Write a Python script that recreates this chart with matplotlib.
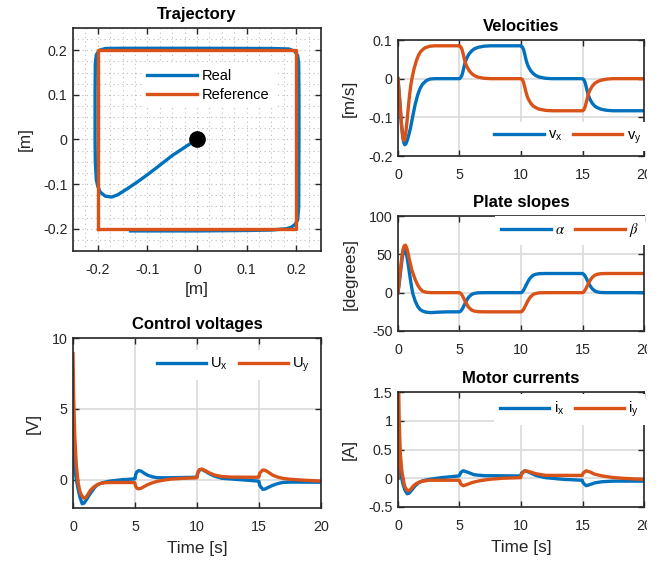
import matplotlib
matplotlib.use('Agg')
import matplotlib.pyplot as plt
from matplotlib.ticker import MultipleLocator, FuncFormatter
from matplotlib.patches import Rectangle

plt.rcParams['font.family'] = ['Liberation Sans', 'DejaVu Sans']
plt.rcParams['mathtext.fontset'] = 'stix'
plt.rcParams['axes.unicode_minus'] = False

# ---- data ----
# trajectory (x, y) [m]
real_x = [0, -0.02, -0.05, -0.08, -0.1, -0.12, -0.14, -0.16, -0.172, -0.185,
          -0.195, -0.2, -0.203, -0.205, -0.2055, -0.2055, -0.205, -0.203, -0.197, -0.185,
          -0.15, 0, 0.15, 0.185, 0.197, 0.203, 0.205, 0.2055, 0.2055, 0.205,
          0.203, 0.198, 0.19, 0.18, 0.15, 0.1, 0, -0.134]
real_y = [0, -0.014, -0.036, -0.062, -0.079, -0.095, -0.11, -0.124, -0.129, -0.127,
          -0.118, -0.105, -0.09, -0.05, 0, 0.1, 0.17, 0.19, 0.2, 0.204,
          0.2045, 0.2045, 0.204, 0.203, 0.198, 0.188, 0.17, 0.1, 0, -0.15,
          -0.18, -0.19, -0.197, -0.2, -0.203, -0.204, -0.205, -0.205]
ref_x = [-0.2, -0.2, 0.2, 0.2, -0.2]
ref_y = [-0.2, 0.2, 0.2, -0.2, -0.2]

# velocities [m/s]
t_vx = [0, 0.15, 0.3, 0.45, 0.55, 0.65, 0.8, 1.0, 1.2, 1.4, 1.6, 1.8, 2.0, 2.3, 2.6, 3.0,
        5.0, 5.1, 5.2, 5.3, 5.4, 5.5, 5.6, 5.8, 6.0, 6.2, 6.5, 7.0, 7.5,
        10.0, 10.1, 10.2, 10.3, 10.4, 10.5, 10.6, 10.8, 11.0, 11.2, 11.5, 12.0, 12.5,
        15.0, 15.1, 15.2, 15.3, 15.4, 15.5, 15.6, 15.8, 16.0, 16.2, 16.5, 17.0, 17.5, 20.0]
vx = [0, -0.06, -0.125, -0.163, -0.171, -0.168, -0.155, -0.13, -0.097, -0.066, -0.042, -0.025, -0.014, -0.005, -0.001, 0,
      0, 0.003, 0.009, 0.021, 0.035, 0.046, 0.054, 0.065, 0.072, 0.077, 0.081, 0.084, 0.085,
      0.085, 0.082, 0.076, 0.064, 0.05, 0.039, 0.031, 0.02, 0.013, 0.008, 0.004, 0.001, 0,
      0, -0.002, -0.009, -0.021, -0.034, -0.045, -0.053, -0.064, -0.071, -0.075, -0.079, -0.082, -0.083, -0.083]
t_vy = [0, 0.1, 0.2, 0.3, 0.4, 0.47, 0.55, 0.65, 0.75, 0.85, 0.95, 1.05, 1.15, 1.3, 1.5, 1.7, 1.9, 2.2, 2.6, 3.0,
        5.0, 5.1, 5.2, 5.3, 5.4, 5.5, 5.6, 5.8, 6.0, 6.2, 6.5, 7.0, 7.5,
        10.0, 10.1, 10.2, 10.3, 10.4, 10.5, 10.6, 10.8, 11.0, 11.2, 11.5, 12.0, 12.5,
        15.0, 15.1, 15.2, 15.3, 15.4, 15.5, 15.6, 15.8, 16.0, 16.2, 16.5, 17.0, 17.5, 20.0]
vy = [0, -0.04, -0.085, -0.125, -0.153, -0.16, -0.155, -0.135, -0.105, -0.07, -0.04, -0.015, 0.003, 0.025, 0.047, 0.063, 0.072, 0.08, 0.084, 0.085,
      0.085, 0.082, 0.076, 0.064, 0.05, 0.039, 0.031, 0.02, 0.013, 0.008, 0.004, 0.001, 0,
      0, -0.002, -0.009, -0.021, -0.034, -0.045, -0.053, -0.064, -0.071, -0.075, -0.079, -0.082, -0.083,
      -0.083, -0.081, -0.074, -0.062, -0.049, -0.038, -0.03, -0.019, -0.012, -0.008, -0.004, -0.001, 0, 0]

# plate slopes [degrees]
t_slope = [0, 0.1, 0.2, 0.3, 0.4, 0.5, 0.6, 0.7, 0.8, 0.9, 1.0, 1.1, 1.2, 1.4, 1.6, 1.8, 2.0, 2.3, 2.7, 3.2, 4.0,
           5.0, 5.1, 5.2, 5.3, 5.4, 5.5, 5.6, 5.7, 5.8, 6.0, 6.2, 6.5, 7.0,
           10.0, 10.1, 10.2, 10.3, 10.4, 10.5, 10.6, 10.7, 10.8, 11.0, 11.2, 11.5, 12.0,
           15.0, 15.1, 15.2, 15.3, 15.4, 15.5, 15.6, 15.7, 15.8, 16.0, 16.2, 16.5, 17.0, 20.0]
alpha = [0, 12, 26, 40, 51, 57, 56, 49, 40, 29, 18, 8, -1, -11, -18, -22, -24, -25.5, -26, -25.5, -25,
         -25, -24, -22, -19, -15.7, -12.5, -9.5, -7, -5, -2.2, -1, -0.2, 0,
         0, 1, 3, 6, 9.3, 12.5, 15.5, 18, 20, 22.8, 24, 24.8, 25,
         25, 24, 22, 19, 15.7, 12.5, 9.5, 7, 5, 2.2, 1, 0.2, 0, 0]
beta = [0, 15, 30, 45, 56, 61, 62, 59, 53, 45, 38, 31, 26, 17, 10, 5, 2, 0.5, 0, 0, 0,
        0, -1, -3, -6, -9.3, -12.5, -15.5, -18, -20, -22.8, -24, -24.8, -25,
        -25, -24, -22, -19, -15.7, -12.5, -9.5, -7, -5, -2.2, -1, -0.2, 0,
        0, 1, 3, 6, 9.3, 12.5, 15.5, 18, 20, 22.8, 24, 24.8, 25, 25]

# control voltages [V]
t_ux = [0, 0.14, 0.27, 0.41, 0.55, 0.74, 0.9, 1.09, 1.3, 1.5, 1.7, 1.91, 2.18, 2.45, 3.0, 3.3, 4.0,
        4.95, 5.0, 5.05, 5.15, 5.3, 5.5, 5.75, 6.0, 6.4, 6.8, 7.5, 9.95, 10.0, 10.05, 10.2, 10.4,
        10.7, 11.0, 11.4, 12.0, 13.0, 14.95, 15.0, 15.05, 15.3, 15.5, 15.8, 16.1, 16.5, 16.9, 17.5, 20]
ux = [2.6, 0.75, 0.0, -0.65, -1.2, -1.7, -1.65, -1.4, -1.1, -0.85, -0.6, -0.4, -0.28, -0.2, -0.1, -0.07, 0.0,
      0.05, 0.07, 0.35, 0.55, 0.64, 0.6, 0.45, 0.32, 0.2, 0.14, 0.13, 0.17, 0.2, 0.45, 0.7, 0.72,
      0.58, 0.42, 0.25, 0.1, 0.03, -0.1, -0.13, -0.4, -0.68, -0.66, -0.52, -0.4, -0.28, -0.2, -0.17, -0.18]
t_uy = [0, 0.05, 0.14, 0.27, 0.41, 0.55, 0.68, 0.87, 1.05, 1.23, 1.4, 1.64, 1.9, 2.18, 2.6, 3.0,
        4.95, 5.0, 5.05, 5.15, 5.3, 5.5, 5.75, 6.0, 6.4, 6.8, 7.4, 7.9, 8.8, 9.95, 10.0, 10.05,
        10.2, 10.4, 10.7, 11.0, 11.4, 12.0, 12.8, 14.95, 15.0, 15.05, 15.3, 15.5, 15.8, 16.1,
        16.5, 17.0, 17.5, 18.5, 20]
uy = [8.9, 6.0, 3.1, 1.0, -0.2, -0.8, -1.1, -1.3, -1.25, -1.0, -0.75, -0.55, -0.38, -0.27, -0.21, -0.2,
      -0.2, -0.25, -0.45, -0.6, -0.65, -0.6, -0.48, -0.36, -0.22, -0.12, -0.02, 0.04, 0.09, 0.13, 0.15, 0.45,
      0.7, 0.75, 0.62, 0.48, 0.33, 0.22, 0.18, 0.17, 0.2, 0.45, 0.68, 0.66, 0.5, 0.32,
      0.18, 0.08, 0.03, -0.03, -0.1]

# motor currents [A]
t_ix = [0, 0.05, 0.15, 0.3, 0.4, 0.55, 0.75, 0.9, 1.1, 1.4, 1.7, 2.0, 2.5, 3.5, 4.95, 5.0, 5.1, 5.3,
        5.6, 6.2, 7.0, 9.95, 10.05, 10.3, 10.6, 11.2, 12.0, 13.5, 14.98, 15.05, 15.3, 15.6, 16.0,
        16.6, 17.5, 20]
ix = [0, 0.3, 0.2, 0.0, -0.1, -0.2, -0.27, -0.26, -0.21, -0.13, -0.075, -0.045, -0.02, 0.01, 0.04, 0.05, 0.1, 0.13,
      0.11, 0.06, 0.045, 0.04, 0.09, 0.13, 0.11, 0.05, 0.01, -0.02, -0.035, -0.08, -0.13, -0.11, -0.08,
      -0.06, -0.05, -0.05]
t_iy = [0, 0.04, 0.1, 0.19, 0.3, 0.38, 0.5, 0.59, 0.78, 1.0, 1.27, 1.5, 1.82, 2.2, 2.49, 4.94, 5.0,
        5.1, 5.3, 5.6, 6.02, 6.6, 7.38, 8.5, 9.96, 10.05, 10.3, 10.6, 11.18, 12.0, 14.98, 15.05,
        15.3, 15.6, 16.0, 16.6, 17.4, 18.2, 20]
iy = [0, 1.6, 1.0, 0.42, 0.15, 0.04, -0.1, -0.16, -0.22, -0.2, -0.13, -0.09, -0.06, -0.045, -0.035, -0.035, -0.04,
      -0.1, -0.13, -0.11, -0.075, -0.045, -0.02, 0.0, 0.01, 0.07, 0.13, 0.12, 0.08, 0.05, 0.05, 0.09,
      0.13, 0.11, 0.07, 0.04, 0.015, 0.0, -0.02]

BLUE = '#0072BD'
ORANGE = '#D95319'
DARK = '#262626'
LW = 2.4
TICK_FS = 10.3
LABEL_FS = 12.3
TITLE_FS = 12
LEG_FS = 10.5

W, H = 667, 563


def px_axes(fig, x0, y0, x1, y1):
    # axes box given in pixel coordinates (top-left origin)
    return fig.add_axes([x0 / W, (H - y1) / H, (x1 - x0) / W, (y1 - y0) / H])


def style(ax):
    for s in ax.spines.values():
        s.set_color(DARK)
        s.set_linewidth(1.2)
    ax.tick_params(direction='in', top=True, right=True, length=4, width=1,
                   color=DARK, labelcolor=DARK, labelsize=TICK_FS)
    ax.tick_params(axis='x', pad=8.5)
    ax.tick_params(axis='y', pad=4)
    fmt = FuncFormatter(lambda v, p: '%g' % round(v, 6))
    ax.xaxis.set_major_formatter(fmt)
    ax.yaxis.set_major_formatter(fmt)
    ax.set_axisbelow(True)


def time_axes(ax, title, ylabel, ylim, ystep, xlabel=None):
    style(ax)
    ax.grid(True, color='#dadada', linewidth=1.2)
    ax.set_xlim(0, 20)
    ax.xaxis.set_major_locator(MultipleLocator(5))
    ax.set_ylim(*ylim)
    ax.yaxis.set_major_locator(MultipleLocator(ystep))
    ax.set_title(title, fontsize=TITLE_FS, fontweight='bold', pad=6.5)
    ax.set_ylabel(ylabel, fontsize=LABEL_FS, color=DARK, labelpad=8)
    if xlabel:
        ax.set_xlabel(xlabel, fontsize=LABEL_FS, color=DARK, labelpad=5.5)


def add_legend(ax, anchor, ncol=2):
    leg = ax.legend(loc='center', bbox_to_anchor=anchor, ncol=ncol, fontsize=LEG_FS,
                    handlelength=3.4, handletextpad=0.3, columnspacing=0.7,
                    frameon=True, fancybox=False, framealpha=1, borderpad=0.4,
                    labelspacing=0.35)
    leg.get_frame().set_edgecolor('none')
    leg.get_frame().set_facecolor('white')
    return leg


fig = plt.figure(figsize=(W / 100, H / 100), dpi=100)

# Trajectory
ax = px_axes(fig, 73, 28, 321, 251)
style(ax)
ax.plot(real_x, real_y, color=BLUE, lw=LW, label='Real')
ax.plot(ref_x, ref_y, color=ORANGE, lw=LW, label='Reference')
ax.plot(real_x[0], real_y[0], 'o', color='k', markersize=11)
ax.set_xlim(-0.25, 0.25)
ax.set_ylim(-0.25, 0.25)
ax.xaxis.set_major_locator(MultipleLocator(0.1))
ax.yaxis.set_major_locator(MultipleLocator(0.1))
ax.xaxis.set_minor_locator(MultipleLocator(0.025))
ax.yaxis.set_minor_locator(MultipleLocator(0.025))
ax.tick_params(which='minor', length=0)
ax.grid(True, which='both', linestyle=(0, (1, 3)), color='#bdbdbd', linewidth=0.8)
ax.set_title('Trajectory', fontsize=TITLE_FS, fontweight='bold', pad=6.5)
ax.set_xlabel('[m]', fontsize=LABEL_FS, color=DARK, labelpad=4)
ax.set_ylabel('[m]', fontsize=LABEL_FS, color=DARK, labelpad=7)
add_legend(ax, (0.545, 0.742), ncol=1)

# Velocities
ax = px_axes(fig, 398, 40, 644, 156)
ax.plot(t_vx, vx, color=BLUE, lw=LW, label=r'v$_\mathregular{x}$')
ax.plot(t_vy, vy, color=ORANGE, lw=LW, label=r'v$_\mathregular{y}$')
time_axes(ax, 'Velocities', '[m/s]', (-0.2, 0.1), 0.1)
add_legend(ax, (0.69, 0.165))

# Plate slopes
ax = px_axes(fig, 398, 216, 644, 331)
ax.plot(t_slope, alpha, color=BLUE, lw=LW, label=r'$\alpha$')
ax.plot(t_slope, beta, color=ORANGE, lw=LW, label=r'$\beta$')
time_axes(ax, 'Plate slopes', '[degrees]', (-50, 100), 50)
add_legend(ax, (0.70, 0.875))

# Control voltages
ax = px_axes(fig, 73, 338, 321, 508)
ax.plot(t_ux, ux, color=BLUE, lw=LW, label=r'U$_\mathregular{x}$')
ax.plot(t_uy, uy, color=ORANGE, lw=LW, label=r'U$_\mathregular{y}$')
time_axes(ax, 'Control voltages', '[V]', (-2, 10), 5, xlabel='Time [s]')
add_legend(ax, (0.647, 0.84))

# Motor currents
ax = px_axes(fig, 398, 392, 644, 507)
ax.plot(t_ix, ix, color=BLUE, lw=LW, label=r'i$_\mathregular{x}$')
ax.plot(t_iy, iy, color=ORANGE, lw=LW, label=r'i$_\mathregular{y}$')
time_axes(ax, 'Motor currents', '[A]', (-0.5, 1.5), 0.5, xlabel='Time [s]')
add_legend(ax, (0.697, 0.846))

# the original picture is cut off on the right edge
fig.add_artist(Rectangle((647 / W, 0), 1, 1, transform=fig.transFigure,
                         facecolor='white', edgecolor='none', zorder=100))

fig.savefig('out.png', dpi=100)
